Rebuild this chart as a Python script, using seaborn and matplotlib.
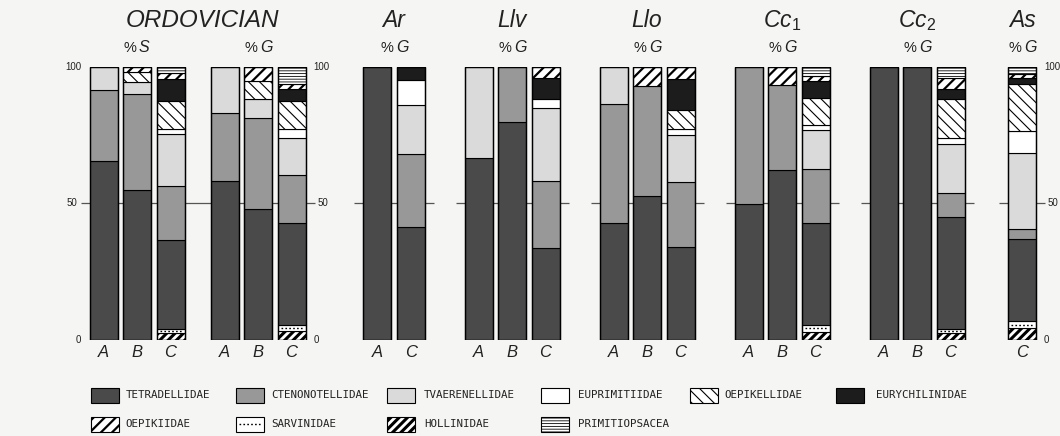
import matplotlib
matplotlib.use("Agg")
import matplotlib.pyplot as plt
from matplotlib.patches import Rectangle
from matplotlib.lines import Line2D
import numpy as np
import seaborn as sns

# ---------------------------------------------------------------- data
panels = ["ORD_S", "ORD_G", "Ar", "Llv", "Llo", "Cc1", "Cc2", "As"]
panel_title = {"ORD_S": None, "ORD_G": None, "Ar": "Ar", "Llv": "Llv", "Llo": "Llo",
               "Cc1": "Cc$_1$", "Cc2": "Cc$_2$", "As": "As"}
panel_basis = {"ORD_S": "S", "ORD_G": "G", "Ar": "G", "Llv": "G", "Llo": "G",
               "Cc1": "G", "Cc2": "G", "As": "G"}

bar_panel = (["ORD_S"] * 3 + ["ORD_G"] * 3 + ["Ar"] * 2 + ["Llv"] * 3 + ["Llo"] * 3
             + ["Cc1"] * 3 + ["Cc2"] * 3 + ["As"])
bar_label = ["A", "B", "C", "A", "B", "C", "A", "C", "A", "B", "C", "A", "B", "C",
             "A", "B", "C", "A", "B", "C", "C"]

# percentages per family, one value per bar (stacked bottom -> top in this order)
hollinidae      = [0, 0, 2.4,   0, 0, 3.0,    0, 0,      0, 0, 0,        0, 0, 0,
                   0, 0, 2.8,   0, 0, 2.4,    4.3]
sarvinidae      = [0, 0, 1.5,   0, 0, 2.5,    0, 0,      0, 0, 0,        0, 0, 0,
                   0, 0, 2.7,   0, 0, 1.3,    2.4]
tetradellidae   = [65.5, 55.0, 32.7,  58.2, 47.9, 37.4,  100, 41.2,  66.5, 79.9, 33.5,
                   42.9, 52.8, 33.9,  49.6, 62.2, 37.4,  100, 100, 41.4,  30.1]
ctenonotellidae = [26.0, 35.2, 19.7,  25.1, 33.4, 17.5,  0, 26.8,    0, 20.1, 24.7,
                   43.4, 40.1, 23.8,  50.4, 31.1, 19.5,  0, 0, 8.8,    3.7]
tvaerenellidae  = [8.5, 4.3, 19.1,    16.7, 7.1, 13.7,   0, 18.0,    33.5, 0, 26.6,
                   13.7, 0, 17.5,     0, 0, 14.4,        0, 0, 17.8,   28.0]
euprimitiidae   = [0, 0, 1.7,   0, 0, 3.0,    0, 9.4,    0, 0, 3.6,      0, 0, 2.2,
                   0, 0, 1.9,   0, 0, 2.1,    8.1]
oepikellidae    = [0, 3.7, 10.3,  0, 6.5, 10.3,  0, 0,   0, 0, 0,        0, 0, 6.7,
                   0, 0, 10.1,  0, 0, 14.6,   17.1]
eurychilinidae  = [0, 0, 8.3,   0, 0, 4.7,    0, 4.6,    0, 0, 7.7,      0, 0, 11.6,
                   0, 0, 6.0,   0, 0, 3.7,    2.4]
oepikiidae      = [0, 1.8, 2.1,   0, 5.1, 1.6,  0, 0,    0, 0, 3.9,      0, 7.1, 4.3,
                   0, 6.7, 1.8,  0, 0, 4.0,   1.5]
primitiopsacea  = [0, 0, 2.2,   0, 0, 6.3,    0, 0,      0, 0, 0,        0, 0, 0,
                   0, 0, 3.4,   0, 0, 3.9,    2.4]

families = ["HOLLINIDAE", "SARVINIDAE", "TETRADELLIDAE", "CTENONOTELLIDAE",
            "TVAERENELLIDAE", "EUPRIMITIIDAE", "OEPIKELLIDAE", "EURYCHILINIDAE",
            "OEPIKIIDAE", "PRIMITIOPSACEA"]
values = [hollinidae, sarvinidae, tetradellidae, ctenonotellidae, tvaerenellidae,
          euprimitiidae, oepikellidae, eurychilinidae, oepikiidae, primitiopsacea]

# ---------------------------------------------------------------- styling
BG = "#f5f5f3"
style = {
    "TETRADELLIDAE":   dict(face="#4a4a4a", hatch=None, hlw=0.8),
    "CTENONOTELLIDAE": dict(face="#989898", hatch=None, hlw=0.8),
    "TVAERENELLIDAE":  dict(face="#dadada", hatch=None, hlw=0.8),
    "EUPRIMITIIDAE":   dict(face="white", hatch=None, hlw=0.8),
    "OEPIKELLIDAE":    dict(face="white", hatch="\\\\\\", hlw=0.8),
    "EURYCHILINIDAE":  dict(face="#1c1c1c", hatch=None, hlw=0.8),
    "OEPIKIIDAE":      dict(face="white", hatch="///", hlw=1.6),
    "SARVINIDAE":      dict(face="white", hatch=None, hlw=0.8),
    "HOLLINIDAE":      dict(face="white", hatch="////", hlw=2.2),
    "PRIMITIOPSACEA":  dict(face="white", hatch="------", hlw=0.6),
}

sns.set_theme(style="white")
plt.rcParams["font.family"] = ["Liberation Sans", "DejaVu Sans"]
plt.rcParams["mathtext.fontset"] = "custom"
plt.rcParams["mathtext.rm"] = "Liberation Sans"
plt.rcParams["mathtext.it"] = "Liberation Sans:italic"
plt.rcParams["hatch.color"] = "black"

W, H = 1060, 436
fig = plt.figure(figsize=(W / 100, H / 100), dpi=100, facecolor=BG)
ax = fig.add_axes([0, (H - 339.5) / H, 1, 272.5 / H])
ax.set_facecolor(BG)
ax.set_xlim(0, W)
ax.set_ylim(0, 100)
ax.axis("off")

# ---------------------------------------------------------------- layout
panel_center = {"ORD_S": 137, "ORD_G": 258, "Ar": 394, "Llv": 512, "Llo": 647,
                "Cc1": 782, "Cc2": 917, "As": 1022}
step, bw = 33.5, 28
xpos = []
for p in panels:
    idx = [i for i, q in enumerate(bar_panel) if q == p]
    n = len(idx)
    for k, i in enumerate(idx):
        xpos.append(panel_center[p] + (k - (n - 1) / 2) * step)
xpos = np.array(xpos)

def set_hlw(patches, lw):
    for pt in patches:
        if hasattr(pt, "set_hatch_linewidth"):
            pt.set_hatch_linewidth(lw)

# 50 % reference lines (drawn behind the bars)
line_kw = dict(color="#555555", lw=0.9, zorder=0)
spans = [("ORD_S", "ORD_G"), ("Ar", "Ar"), ("Llv", "Llv"), ("Llo", "Llo"),
         ("Cc1", "Cc1"), ("Cc2", "Cc2"), ("As", "As")]
for a, b in spans:
    xa = xpos[[i for i, q in enumerate(bar_panel) if q == a]].min() - bw / 2 - 9
    xb = xpos[[i for i, q in enumerate(bar_panel) if q == b]].max() + bw / 2 + 9
    ax.hlines(50, xa, xb, **line_kw)

# stacked segments
bottom = np.zeros(len(xpos))
for fam, vals in zip(families, values):
    v = np.asarray(vals, dtype=float)
    m = v > 0
    st = style[fam]
    with plt.rc_context({"hatch.linewidth": st["hlw"]}):
        bars = ax.bar(xpos[m], v[m], bottom=bottom[m], width=bw, color=st["face"],
                      edgecolor="black", linewidth=0.8, hatch=st["hatch"], zorder=2)
    set_hlw(bars, st["hlw"])
    if fam == "SARVINIDAE":
        for x0, b0, h0 in zip(xpos[m], bottom[m], v[m]):
            ax.hlines(b0 + h0 / 2, x0 - bw / 2 + 3, x0 + bw / 2 - 3, color="black",
                      lw=1.0, linestyles=(0, (1.2, 1.6)), zorder=3)
    bottom += v

# outer frame of each bar
ax.bar(xpos, bottom, width=bw, facecolor="none", edgecolor="black", linewidth=1.0,
       zorder=4)

# ---------------------------------------------------------------- text
ital = dict(style="italic", color="#222222")
ax.text((panel_center["ORD_S"] + panel_center["ORD_G"]) / 2 + 5, 117, "ORDOVICIAN",
        ha="center", va="center", fontsize=17.5, clip_on=False, **ital)
for p in panels:
    c = panel_center[p]
    if panel_title[p]:
        ax.text(c, 117, panel_title[p], ha="center", va="center", fontsize=16.5,
                clip_on=False, **ital)
    ax.text(c - 1, 107, "%", ha="right", va="center", fontsize=10.5, color="#222222")
    ax.text(c + 2, 107, panel_basis[p], ha="left", va="center", fontsize=11.5,
            clip_on=False, **ital)

for x0, lab in zip(xpos, bar_label):
    ax.text(x0, -4.8, lab, ha="center", va="center", fontsize=12, clip_on=False, **ital)

# value scales
def scale(edge, side):
    sgn = -1 if side == "left" else 1
    ha = "right" if side == "left" else "left"
    kw = dict(fontsize=7, color="#222222", va="center", ha=ha)
    ax.text(edge + sgn * 8, 100, "100", **kw)
    ax.text(edge + sgn * 8, 0, "0", **kw)
    ax.text(edge + sgn * 12, 50, "50", **kw)

scale(xpos[0] - bw / 2, "left")
scale(xpos[5] + bw / 2, "right")
scale(xpos[-1] + bw / 2, "right")

# ---------------------------------------------------------------- legend
def fx(px):
    return px / W

def fy(py):
    return (H - py) / H

legend_rows = [
    (395, [("TETRADELLIDAE", 91, 126), ("CTENONOTELLIDAE", 236, 271),
           ("TVAERENELLIDAE", 387, 424), ("EUPRIMITIIDAE", 541, 578),
           ("OEPIKELLIDAE", 690, 724), ("EURYCHILINIDAE", 836, 876)]),
    (424, [("OEPIKIIDAE", 91, 125), ("SARVINIDAE", 236, 271),
           ("HOLLINIDAE", 387, 424), ("PRIMITIOPSACEA", 541, 578)]),
]
sw, sh = 28, 15
for yc, entries in legend_rows:
    for fam, sx, tx in entries:
        st = style[fam]
        with plt.rc_context({"hatch.linewidth": st["hlw"]}):
            r = Rectangle((fx(sx), fy(yc + sh / 2)), sw / W, sh / H,
                          transform=fig.transFigure, facecolor=st["face"],
                          edgecolor="black", linewidth=0.8, hatch=st["hatch"])
        set_hlw([r], st["hlw"])
        fig.add_artist(r)
        if fam == "SARVINIDAE":
            fig.add_artist(Line2D([fx(sx + 3), fx(sx + sw - 3)], [fy(yc), fy(yc)],
                                  transform=fig.transFigure, color="black", lw=1.0,
                                  linestyle=(0, (1.2, 1.6))))
        fig.text(fx(tx), fy(yc), fam, ha="left", va="center", fontsize=7.8,
                 family="DejaVu Sans Mono", color="#222222")

fig.savefig("out.png", dpi=100, facecolor=BG)
